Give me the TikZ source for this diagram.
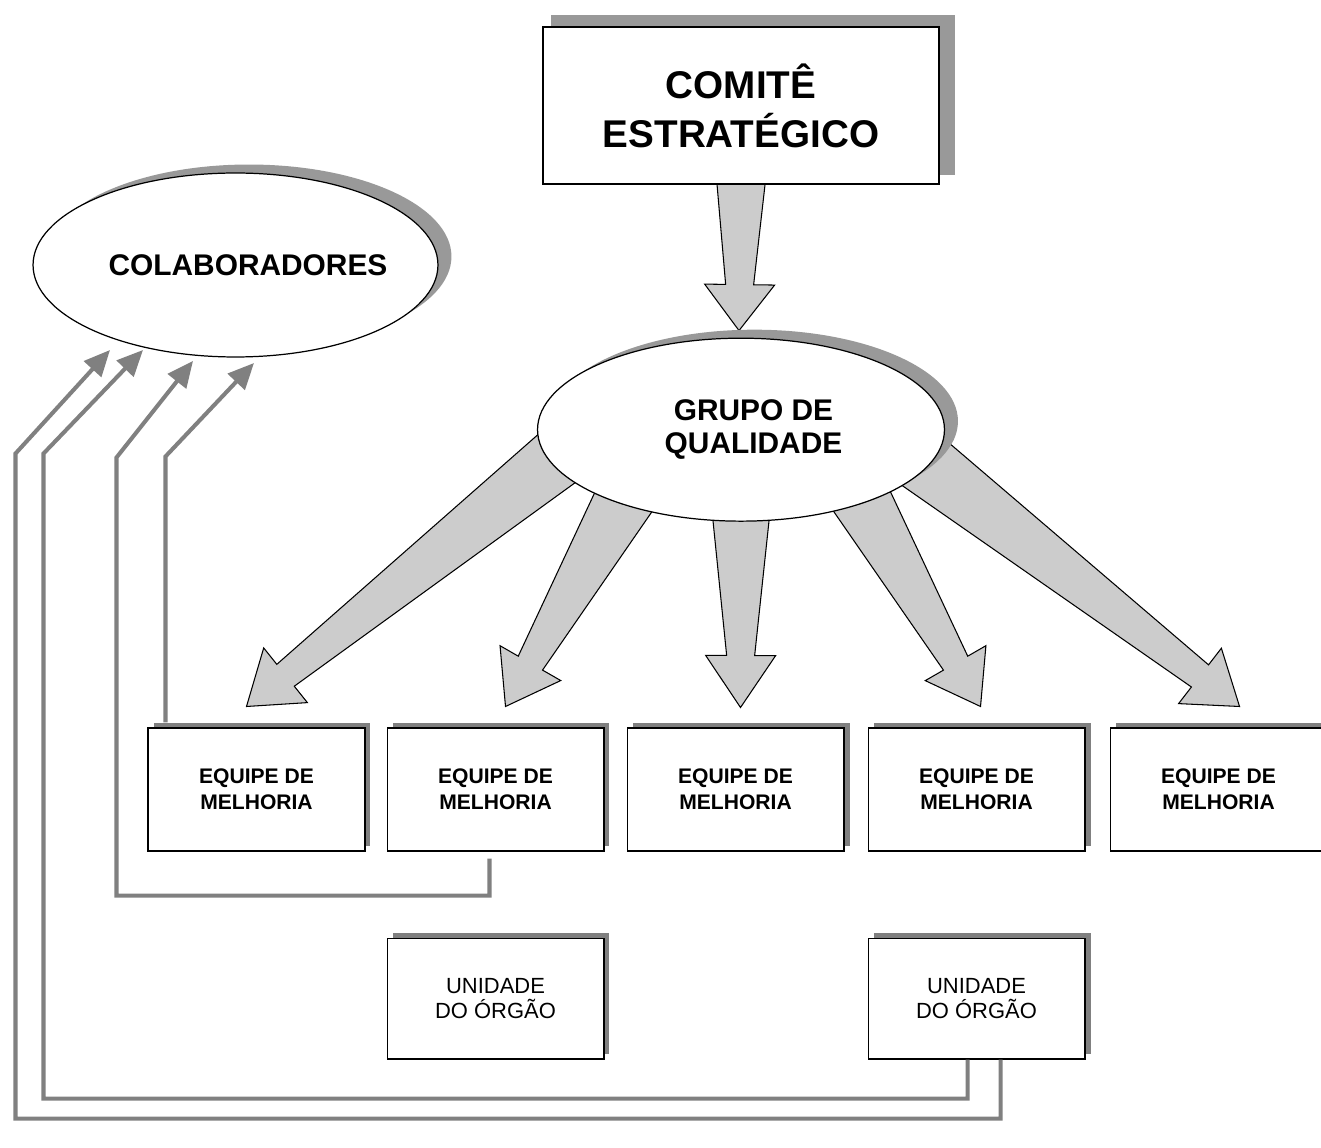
\documentclass[tikz,border=0pt]{standalone}
\usepackage{fontspec}
\setsansfont{Liberation Sans}
\usetikzlibrary{shapes.geometric,arrows.meta,positioning,calc,shadows,backgrounds}

% thick grey arrow with a tapering shaft: start, tip, half width at start, head length
\newcommand{\fatarrow}[4]{%
  \coordinate (fa-t) at #2;
  \coordinate (fa-s) at ($#1!-0.4cm!(fa-t)$);
  \coordinate (fa-n) at ($(fa-t)!#4!(fa-s)$);
  \draw[fat arrow] ($(fa-s)!#3!90:(fa-t)$) -- ($(fa-n)!0.28cm!90:(fa-t)$)
    -- ($(fa-n)!0.7cm!90:(fa-t)$) -- (fa-t)
    -- ($(fa-n)!0.7cm!-90:(fa-t)$) -- ($(fa-n)!0.28cm!-90:(fa-t)$)
    -- ($(fa-s)!#3!-90:(fa-t)$) -- cycle;
}

\begin{document}
\begin{tikzpicture}[
    x=0.02cm, y=-0.02cm,
    team box/.style={rectangle,draw,line width=0.6pt,fill=white,
        minimum width=4.34cm,minimum height=2.46cm,inner sep=0pt,align=center,
        font=\sffamily\bfseries\fontsize{12}{14.7}\selectfont,
        drop shadow={shadow xshift=0.11cm,shadow yshift=0.1cm,fill=black!50,opacity=1}},
    unit box/.style={team box,minimum height=2.42cm,
        font=\sffamily\fontsize{12.5}{14.5}\selectfont},
    board box/.style={rectangle,draw,line width=0.7pt,fill=white,
        minimum width=7.92cm,minimum height=3.14cm,inner sep=0pt,align=center,
        font=\sffamily\bfseries\fontsize{22}{28}\selectfont,
        drop shadow={shadow xshift=0.23cm,shadow yshift=0.2cm,shadow scale=1.02,fill=black!40,opacity=1}},
    oval node/.style={ellipse,draw,line width=0.7pt,fill=white,inner sep=0pt,align=center,
        font=\sffamily\bfseries\fontsize{17}{18.7}\selectfont,
        drop shadow={shadow xshift=0.27cm,shadow yshift=0.17cm,fill=black!40,opacity=1}},
    fat arrow/.style={draw,line width=0.6pt,fill=black!20,line join=miter},
    back link/.style={draw=black!50,line width=2.3pt,
        -{Triangle[length=0.52cm,width=0.46cm]}}
]
\useasboundingbox (0,0) rectangle (1321,1148);

% Committee and quality group
\node[board box] (comite) at (741,105.5) {COMITÊ\\ESTRATÉGICO};
\node[oval node, minimum width=8.14cm, minimum height=3.66cm, below=3.06cm of comite] (grupo)
    {\hspace*{0.5cm}GRUPO DE\\\hspace*{0.5cm}QUALIDADE};

% Staff
\node[oval node, minimum width=8.1cm, minimum height=3.68cm] (colab) at (235.5,265)
    {\makebox[0pt]{\hspace*{0.5cm}COLABORADORES}};

% Improvement teams
\node[team box] (eq1) at (256.5,789.5) {EQUIPE DE\\MELHORIA};
\node[team box, right=0.42cm of eq1] (eq2) {EQUIPE DE\\MELHORIA};
\node[team box, right=0.44cm of eq2] (eq3) {EQUIPE DE\\MELHORIA};
\node[team box, right=0.46cm of eq3] (eq4) {EQUIPE DE\\MELHORIA};
\node[team box, right=0.48cm of eq4] (eq5) {EQUIPE DE\\MELHORIA};

% Units
\node[unit box, below=1.72cm of eq2] (un1) {UNIDADE\\DO ÓRGÃO};
\node[unit box, below=1.72cm of eq4] (un2) {UNIDADE\\DO ÓRGÃO};

% Big arrows
\begin{scope}[on background layer]
\fill[white] (0,0) rectangle (1321,1148);
\fatarrow{(comite.south)}{($(grupo.north)+(-2,-7)$)}{0.52cm}{0.92cm}
\fatarrow{(grupo.190)}{($(eq1.north)+(-10,-21)$)}{0.62cm}{1cm}
\fatarrow{(grupo.212)}{($(eq2.north)+(10,-21)$)}{0.62cm}{1cm}
\fatarrow{(grupo.270)}{($(eq3.north)+(5,-20)$)}{0.6cm}{1.04cm}
\fatarrow{(grupo.329)}{($(eq4.north)+(4,-21)$)}{0.62cm}{1cm}
\fatarrow{(grupo.349)}{($(eq5.north)+(21,-21)$)}{0.64cm}{1cm}
\end{scope}

% Feedback to staff
\coordinate (tipA) at (110,350);
\coordinate (tipB) at (143,350);
\coordinate (tipC) at (193,361);
\coordinate (tipD) at (254,363);

\draw[back link] ($(eq1.north west)+(18,-5)$) -- ++(0,-266) -- (tipD);
\draw[back link] ($(eq2.south west)+(103,7)$) -- ++(0,37) -- ++(-373,0) -- ++(0,-438) -- (tipC);
\draw[back link] ($(un2.south west)+(100,0)$) -- ++(0,39) -- ++(-924,0) -- ++(0,-645) -- (tipB);
\draw[back link] ($(un2.south west)+(133,0)$) -- ++(0,59) -- ++(-985,0) -- ++(0,-665) -- (tipA);

\end{tikzpicture}
\end{document}
